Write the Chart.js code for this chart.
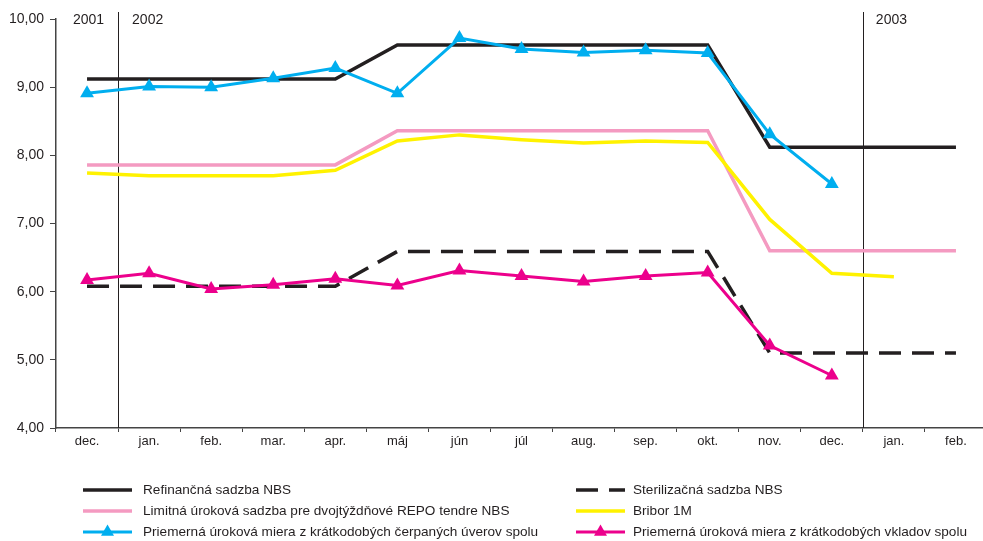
<!DOCTYPE html>
<html>
<head>
<meta charset="utf-8">
<script src="https://cdn.jsdelivr.net/npm/chart.js"></script>
<style>
  html, body { margin: 0; padding: 0; background: #fff; overflow: hidden; }
  #wrap { position: absolute; left: 0; top: 0; width: 995px; height: 541px; }
</style>
</head>
<body>
<div id="wrap"><canvas id="rates"></canvas></div>
<script>
const months = ['dec.', 'jan.', 'feb.', 'mar.', 'apr.', 'máj', 'jún', 'júl', 'aug.', 'sep.', 'okt.', 'nov.', 'dec.', 'jan.', 'feb.'];
const yearLabels = ['2001', '2002', '2003'];
const yearStarts = [1, 13]; // index of the first month of 2002 and 2003

const refinancna = [9.12, 9.12, 9.12, 9.12, 9.12, 9.62, 9.62, 9.62, 9.62, 9.62, 9.62, 8.12, 8.12, 8.12, 8.12];
const sterilizacna = [6.08, 6.08, 6.08, 6.08, 6.08, 6.59, 6.59, 6.59, 6.59, 6.59, 6.59, 5.10, 5.10, 5.10, 5.10];
const limitna = [7.86, 7.86, 7.86, 7.86, 7.86, 8.36, 8.36, 8.36, 8.36, 8.36, 8.36, 6.60, 6.60, 6.60, 6.60];
const bribor = [7.74, 7.70, 7.70, 7.70, 7.78, 8.21, 8.30, 8.23, 8.18, 8.21, 8.19, 7.06, 6.27, 6.22, null];
const uvery = [8.91, 9.01, 9.00, 9.13, 9.28, 8.91, 9.72, 9.56, 9.51, 9.54, 9.50, 8.31, 7.58, null, null];
const vklady = [6.17, 6.27, 6.04, 6.10, 6.19, 6.09, 6.31, 6.23, 6.15, 6.23, 6.28, 5.21, 4.77, null, null];

const textColor = '#231f20';
Chart.defaults.font.family = '"Liberation Sans", Arial, Helvetica, sans-serif';
Chart.defaults.color = textColor;

function lineSet(label, data, color, order, extra) {
  return Object.assign({
    label: label,
    data: data,
    borderColor: color,
    backgroundColor: color,
    borderWidth: 3.5,
    pointRadius: 0,
    tension: 0,
    order: order
  }, extra || {});
}

const triangles = { pointStyle: 'triangle', pointRadius: 8, pointBorderWidth: 0, borderWidth: 3 };

// vertical lines between years + year captions
const yearLinesPlugin = {
  id: 'yearLines',
  beforeDatasetsDraw(chart) {
    const { ctx, chartArea, scales: { x } } = chart;
    const xs = yearStarts.map(i => (x.getPixelForValue(i - 1) + x.getPixelForValue(i)) / 2);
    ctx.save();
    ctx.strokeStyle = textColor;
    ctx.lineWidth = 1;
    xs.forEach(px => {
      ctx.beginPath();
      ctx.moveTo(Math.round(px) + 0.5, 12);
      ctx.lineTo(Math.round(px) + 0.5, chartArea.bottom);
      ctx.stroke();
    });
    ctx.fillStyle = textColor;
    ctx.font = '14px "Liberation Sans", Arial, sans-serif';
    ctx.textBaseline = 'middle';
    ctx.textAlign = 'right';
    ctx.fillText(yearLabels[0], xs[0] - 14, chartArea.top + 1);
    ctx.textAlign = 'left';
    ctx.fillText(yearLabels[1], xs[0] + 14, chartArea.top + 1);
    ctx.fillText(yearLabels[2], xs[1] + 13, chartArea.top + 1);
    ctx.restore();
  }
};

// two-column legend under the chart
const legendPlugin = {
  id: 'twoColLegend',
  afterDraw(chart) {
    const { ctx } = chart;
    const colX = [83, 576];
    const rowY = [490, 511, 532];
    const sampleW = 49;
    ctx.save();
    ctx.font = '13.6px "Liberation Sans", Arial, sans-serif';
    ctx.textBaseline = 'middle';
    ctx.textAlign = 'left';
    chart.data.datasets.forEach((ds, i) => {
      const x0 = colX[i % 2];
      const y = rowY[Math.floor(i / 2)];
      ctx.strokeStyle = ds.borderColor;
      ctx.lineWidth = ds.borderWidth;
      ctx.setLineDash(ds.borderDash || []);
      ctx.beginPath();
      ctx.moveTo(x0, y);
      ctx.lineTo(x0 + sampleW, y);
      ctx.stroke();
      ctx.setLineDash([]);
      if (ds.pointStyle === 'triangle') {
        const r = 7.5, cx = x0 + sampleW / 2;
        ctx.fillStyle = ds.borderColor;
        ctx.beginPath();
        ctx.moveTo(cx, y - r);
        ctx.lineTo(cx + r * 0.866, y + r / 2);
        ctx.lineTo(cx - r * 0.866, y + r / 2);
        ctx.closePath();
        ctx.fill();
      }
      ctx.fillStyle = textColor;
      ctx.fillText(ds.label, x0 + sampleW + (i % 2 ? 8 : 11), y);
    });
    ctx.restore();
  }
};

new Chart(document.getElementById('rates'), {
  type: 'line',
  data: {
    labels: months,
    datasets: [
      lineSet('Refinančná sadzba NBS', refinancna, '#231f20', 4),
      lineSet('Sterilizačná sadzba NBS', sterilizacna, '#231f20', 3, { borderDash: [22, 11] }),
      lineSet('Limitná úroková sadzba pre dvojtýždňové REPO tendre NBS', limitna, '#f49ac1', 6),
      lineSet('Bribor 1M', bribor, '#fff200', 5),
      lineSet('Priemerná úroková miera z krátkodobých čerpaných úverov spolu', uvery, '#00aeef', 2, triangles),
      lineSet('Priemerná úroková miera z krátkodobých vkladov spolu', vklady, '#ec008c', 1, triangles)
    ]
  },
  options: {
    responsive: true,
    maintainAspectRatio: false,
    animation: false,
    events: [],
    layout: { padding: { left: 0, right: 7, top: 19, bottom: 83 } },
    plugins: {
      legend: { display: false },
      tooltip: { enabled: false }
    },
    scales: {
      x: {
        offset: true,
        grid: { offset: true, drawOnChartArea: false, drawTicks: true, tickLength: 4, color: '#444' },
        border: { display: true, color: '#444', width: 1.5 },
        ticks: { padding: 2, font: { size: 13 }, color: textColor, maxRotation: 0, autoSkip: false },
        afterFit(scale) { scale.height = 30; }
      },
      y: {
        min: 4,
        max: 10,
        grid: { drawOnChartArea: false, drawTicks: true, tickLength: 6, color: '#444' },
        border: { display: true, color: '#444', width: 1.5 },
        ticks: {
          stepSize: 1,
          padding: 6,
          font: { size: 14 },
          color: textColor,
          callback: v => v.toFixed(2).replace('.', ',')
        },
        afterFit(scale) { scale.width = 56; }
      }
    }
  },
  plugins: [yearLinesPlugin, legendPlugin]
});
</script>
</body>
</html>
